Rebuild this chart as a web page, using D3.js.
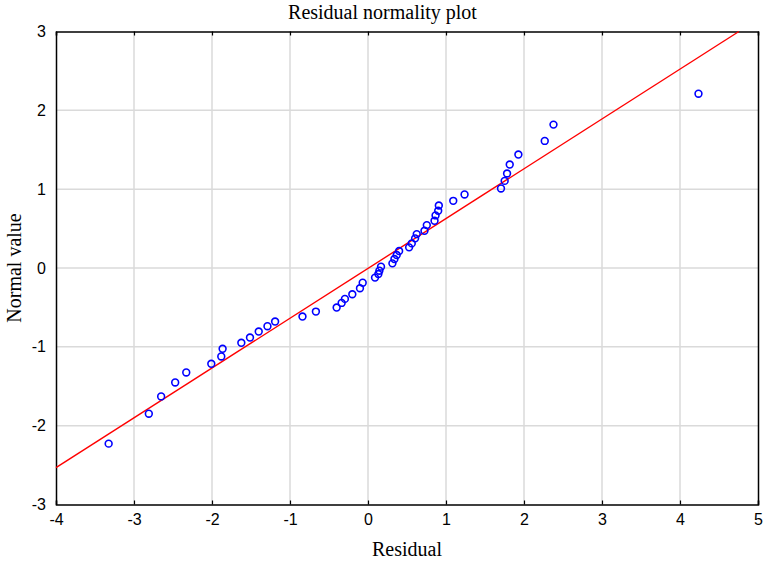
<!doctype html>
<html>
<head>
<meta charset="UTF-8">
<title>Residual normality plot</title>
<script src="https://d3js.org/d3.v7.min.js"></script>
<style>
  body{ margin:0; background:#fff; }
</style>
</head>
<body>
<svg id="chart" width="765" height="561"></svg>
<script>
// residuals (x) and expected normal values (y)
var residual = [-3.325, -2.81, -2.652, -2.472, -2.33, -2.009, -1.881, -1.864, -1.624, -1.513,
                -1.401, -1.289, -1.191, -0.84, -0.668, -0.402, -0.338, -0.296, -0.201, -0.103,
                -0.068, 0.09, 0.133, 0.146, 0.167, 0.313, 0.339, 0.368, 0.399, 0.527,
                0.561, 0.604, 0.625, 0.724, 0.754, 0.853, 0.866, 0.9, 0.908, 1.093,
                1.238, 1.705, 1.752, 1.783, 1.817, 1.928, 2.266, 2.378, 4.237];
var normalValue = [-2.228, -1.848, -1.629, -1.452, -1.325, -1.215, -1.122, -1.025, -0.949, -0.882,
                   -0.806, -0.738, -0.679, -0.616, -0.553, -0.502, -0.443, -0.392, -0.333, -0.257,
                   -0.186, -0.122, -0.076, -0.034, 0.017, 0.059, 0.114, 0.165, 0.215, 0.262,
                   0.312, 0.376, 0.43, 0.472, 0.544, 0.599, 0.667, 0.726, 0.793, 0.852,
                   0.933, 1.009, 1.105, 1.199, 1.312, 1.439, 1.612, 1.819, 2.211];
// fitted line
var lineIntercept = -0.005;
var lineSlope = 0.632;

var xTicks = [-4, -3, -2, -1, 0, 1, 2, 3, 4, 5];
var yTicks = [-3, -2, -1, 0, 1, 2, 3];

var pLeft = 56, pRight = 758, pTop = 31.5, pBottom = 504.5;

var svg = d3.select("#chart");

var x = d3.scaleLinear().domain([-4, 5]).range([pLeft, pRight]);
var y = d3.scaleLinear().domain([-3, 3]).range([pBottom, pTop]);
var fmt = function(d){ return String(d); };  // plain hyphen minus, as in the picture

// grid
svg.append("g").selectAll("line")
  .data(xTicks.slice(1, -1)).enter().append("line")
  .attr("x1", function(d){ return x(d); })
  .attr("x2", function(d){ return x(d); })
  .attr("y1", pTop).attr("y2", pBottom)
  .attr("stroke", "#dadada").attr("stroke-width", 1.5);
svg.append("g").selectAll("line")
  .data(yTicks.slice(1, -1)).enter().append("line")
  .attr("y1", function(d){ return y(d); })
  .attr("y2", function(d){ return y(d); })
  .attr("x1", pLeft).attr("x2", pRight)
  .attr("stroke", "#dadada").attr("stroke-width", 1.5);

// axes: labels outside, short ticks inside
var gx = svg.append("g").attr("transform", "translate(0," + pBottom + ")")
  .call(d3.axisBottom(x).tickValues(xTicks).tickSize(-4).tickPadding(9).tickFormat(fmt));
var gxt = svg.append("g").attr("transform", "translate(0," + pTop + ")")
  .call(d3.axisTop(x).tickValues(xTicks).tickSize(-4).tickFormat(""));
var gy = svg.append("g").attr("transform", "translate(" + pLeft + ",0)")
  .call(d3.axisLeft(y).tickValues(yTicks).tickSize(0).tickPadding(10).tickFormat(fmt));
var gyr = svg.append("g").attr("transform", "translate(" + pRight + ",0)")
  .call(d3.axisRight(y).tickValues(yTicks).tickSize(0).tickFormat(""));

[gx, gxt, gy, gyr].forEach(function(g){
  g.select(".domain").attr("stroke", "#000").attr("stroke-width", 1.5);
  g.selectAll(".tick line").attr("stroke", "#000").attr("stroke-width", 1.2);
  g.selectAll("text").attr("fill", "#000")
    .style("font-family", "'Liberation Sans', Arial, sans-serif")
    .style("font-size", "16px");
});

// fitted line, from the left edge to the top edge of the frame
var xEnd = (3 - lineIntercept) / lineSlope;
svg.append("line")
  .attr("x1", x(-4)).attr("y1", y(lineIntercept + lineSlope * -4))
  .attr("x2", x(xEnd)).attr("y2", y(3))
  .attr("stroke", "#ff0000").attr("stroke-width", 1.4);

// points
svg.append("g").selectAll("circle")
  .data(residual).enter().append("circle")
  .attr("cx", function(d){ return x(d); })
  .attr("cy", function(d, i){ return y(normalValue[i]); })
  .attr("r", 3.4)
  .attr("fill", "none")
  .attr("stroke", "#0000ff")
  .attr("stroke-width", 1.6);

// titles
var serif = "'Liberation Serif', 'Times New Roman', serif";
svg.append("text").attr("x", 382.5).attr("y", 19)
  .attr("text-anchor", "middle").style("font-family", serif).style("font-size", "20px")
  .text("Residual normality plot");
svg.append("text").attr("x", (pLeft + pRight) / 2).attr("y", 556)
  .attr("text-anchor", "middle").style("font-family", serif).style("font-size", "20px")
  .text("Residual");
svg.append("text")
  .attr("transform", "translate(21," + ((pTop + pBottom) / 2) + ") rotate(-90)")
  .attr("text-anchor", "middle").style("font-family", serif).style("font-size", "20px")
  .text("Normal value");
</script>
</body>
</html>
